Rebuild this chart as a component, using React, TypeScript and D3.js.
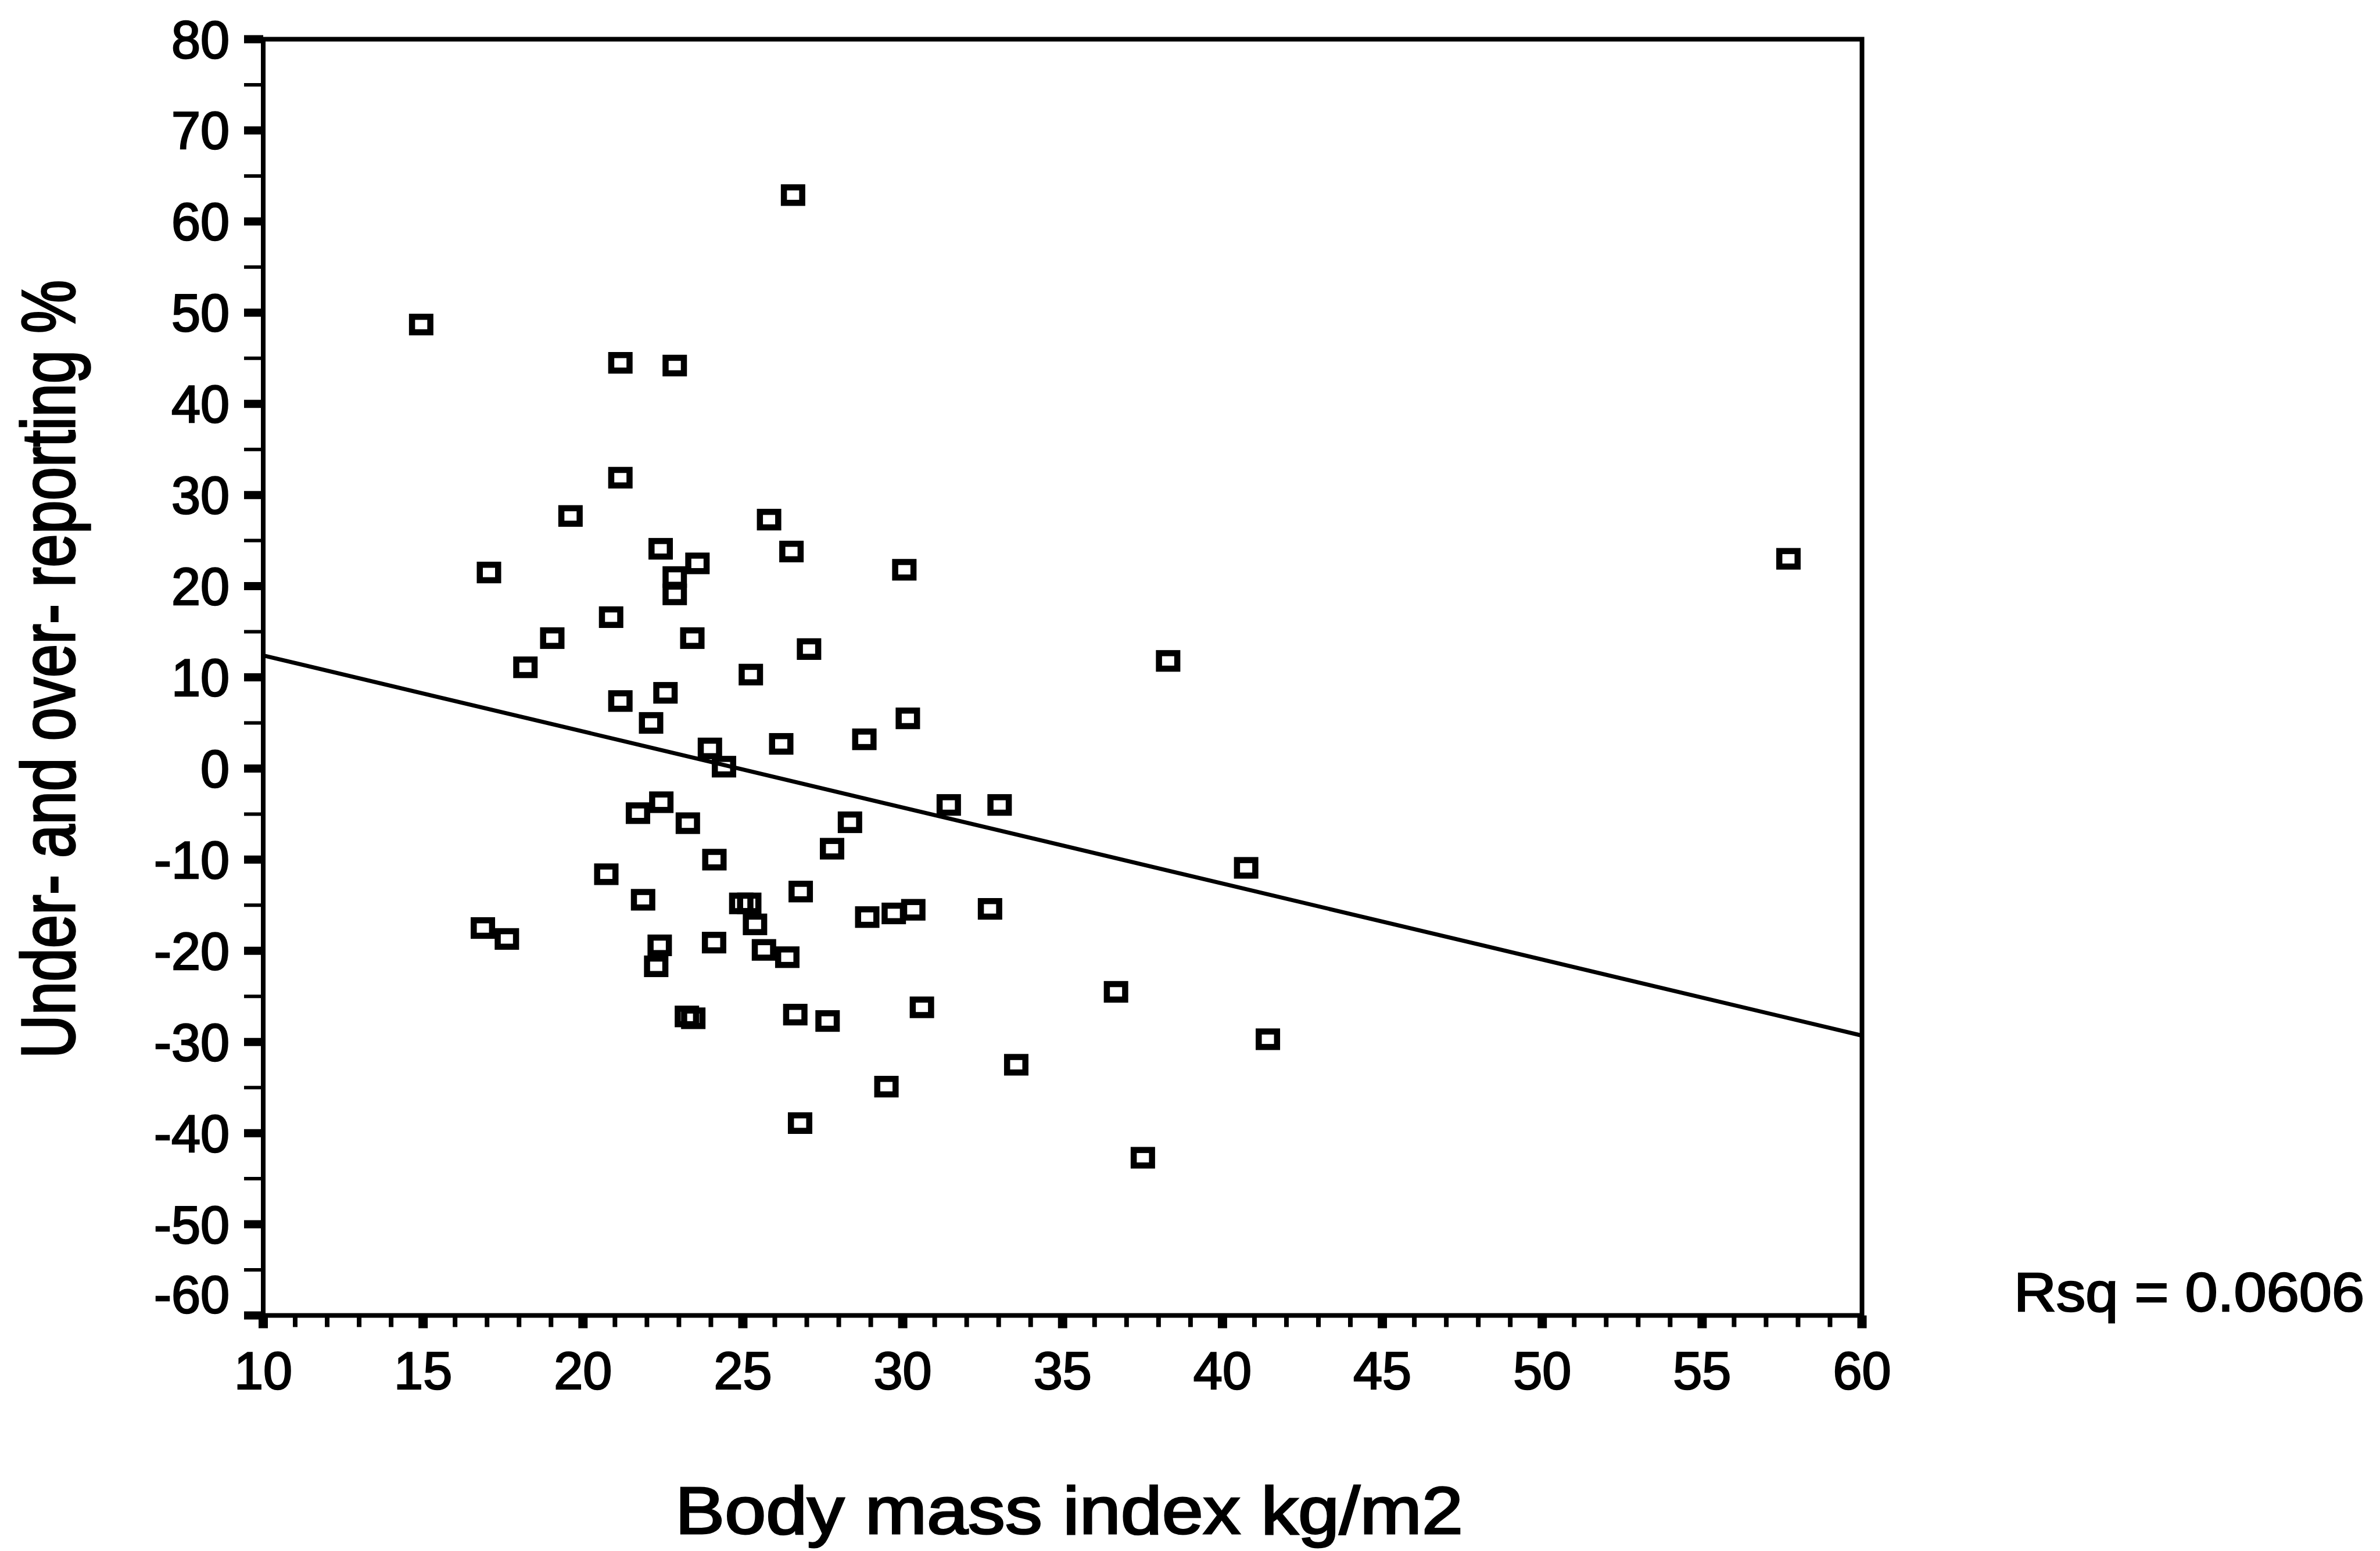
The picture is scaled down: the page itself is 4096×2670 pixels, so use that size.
import React from "react";
import * as d3 from "d3";

// ---- data ----
const bmi: number[] = [
  26.57, 14.94, 21.17, 22.87, 21.17, 19.61, 25.82, 22.43, 26.52, 23.58,
  22.87, 22.87, 17.06, 20.88, 19.04, 23.42, 27.07, 18.2, 25.25, 22.58,
  21.17, 22.13, 23.97, 24.41, 26.2, 28.8, 22.45, 21.72, 23.28, 28.35,
  27.79, 24.11, 20.73, 21.88, 24.95, 25.2, 26.81, 25.38, 16.87, 17.62,
  22.4, 22.29, 24.1, 25.66, 26.39, 23.25, 23.45, 26.64, 27.65, 26.79,
  38.3, 30.16, 31.44, 33.03, 40.74, 28.89, 29.72, 30.33, 32.73, 36.67,
  30.6, 41.42, 33.55, 29.49, 37.51, 30.05, 57.7,
];
const reporting: number[] = [
  62.9, 48.7, 44.5, 44.2, 31.9, 27.7, 27.3, 24.1, 23.8, 22.5,
  21.0, 19.1, 21.5, 16.6, 14.3, 14.3, 13.1, 11.1, 10.3, 8.3,
  7.4, 5.0, 2.2, 0.2, 2.7, 3.2, -3.7, -4.9, -6.0, -5.9,
  -8.8, -10.0, -11.6, -14.4, -14.8, -14.8, -13.5, -17.1, -17.5, -18.7,
  -19.4, -21.7, -19.1, -19.9, -20.7, -27.2, -27.4, -27.0, -27.7, -38.9,
  11.8, 5.5, -4.0, -4.0, -10.9, -16.3, -15.9, -15.5, -15.4, -24.5,
  -26.2, -29.7, -32.5, -34.9, -42.7, 21.8, 23.0,
];
const fitX: number[] = [10, 60];
const fitY: number[] = [12.4, -29.3];
const xTicks: number[] = [10, 15, 20, 25, 30, 35, 40, 45, 50, 55, 60];
const yTicks: number[] = [80, 70, 60, 50, 40, 30, 20, 10, 0, -10, -20, -30, -40, -50, -60];
const xTitle = "Body mass index kg/m2";
const yTitle = "Under- and over- reporting %";
const rsqLabel = "Rsq = 0.0606";

const W = 4096;
const H = 2670;
const FONT = "'Liberation Sans', Arial, Helvetica, sans-serif";

export default function App() {
  const x = d3.scaleLinear().domain([10, 60]).range([453, 3204.5]);
  const y = d3.scaleLinear().domain([-60, 80]).range([2264.5, 67.5]);
  const [x0, x1] = x.range();
  const [y0, y1] = y.range();

  const xMinor = d3.range(10, 61, 1).filter((v) => v % 5 !== 0);
  const yMinor = d3.range(-55, 80, 10);

  const line = d3
    .line<number>()
    .x((_, i) => x(fitX[i]))
    .y((d) => y(d));

  const pts = bmi.map((b, i) => ({ b, r: reporting[i] }));
  const mw = 31.5;
  const mh = 26.7;

  return (
    <div style={{ position: "absolute", left: 0, top: 0 }}>
      <svg width={W} height={H} style={{ display: "block", background: "#fff" }}>
        <rect x={0} y={0} width={W} height={H} fill="#fff" />
        {/* regression line */}
        <path d={line(fitY) || ""} fill="none" stroke="#000" strokeWidth={7} />
        {/* points */}
        {pts.map((p, i) => (
          <rect
            key={i}
            x={x(p.b) - mw / 2}
            y={y(p.r) - mh / 2}
            width={mw}
            height={mh}
            fill="none"
            stroke="#000"
            strokeWidth={10.5}
          />
        ))}
        {/* frame */}
        <rect x={x0} y={y1} width={x1 - x0} height={y0 - y1} fill="none" stroke="#000" strokeWidth={8} />
        {/* y ticks */}
        {yTicks.map((v) => (
          <line key={"ym" + v} x1={x0 - 33} x2={x0} y1={y(v)} y2={y(v)} stroke="#000" strokeWidth={14} />
        ))}
        {yMinor.map((v) => (
          <line key={"yn" + v} x1={x0 - 33} x2={x0} y1={y(v)} y2={y(v)} stroke="#000" strokeWidth={6} />
        ))}
        {/* x ticks */}
        {xTicks.map((v) => (
          <line key={"xm" + v} x1={x(v)} x2={x(v)} y1={y0} y2={y0 + 22} stroke="#000" strokeWidth={16} />
        ))}
        {xMinor.map((v) => (
          <line key={"xn" + v} x1={x(v)} x2={x(v)} y1={y0} y2={y0 + 20} stroke="#000" strokeWidth={8} />
        ))}
        {/* y tick labels */}
        {yTicks.map((v) => (
          <text
            key={"yl" + v}
            x={395}
            y={y(v) + 32 - (v === -60 ? 37 : 0)}
            textAnchor="end"
            fontFamily={FONT}
            fontSize={90}
            fill="#000"
            stroke="#000"
            strokeWidth={2.5}
          >
            {String(v)}
          </text>
        ))}
        {/* x tick labels */}
        {xTicks.map((v) => (
          <text
            key={"xl" + v}
            x={x(v)}
            y={2391}
            textAnchor="middle"
            fontFamily={FONT}
            fontSize={90}
            fill="#000"
            stroke="#000"
            strokeWidth={2.5}
          >
            {String(v)}
          </text>
        ))}
        {/* axis titles */}
        <text
          x={1162}
          y={2640}
          fontFamily={FONT}
          fontSize={115}
          textLength={1356}
          lengthAdjust="spacingAndGlyphs"
          fill="#000"
          stroke="#000"
          strokeWidth={3}
        >
          {xTitle}
        </text>
        <text
          transform={`translate(128, 1152) rotate(-90)`}
          x={0}
          y={0}
          textAnchor="middle"
          fontFamily={FONT}
          fontSize={130}
          textLength={1340}
          lengthAdjust="spacingAndGlyphs"
          fill="#000"
          stroke="#000"
          strokeWidth={3.5}
        >
          {yTitle}
        </text>
        <text
          x={3466}
          y={2257}
          fontFamily={FONT}
          fontSize={95}
          textLength={603}
          lengthAdjust="spacingAndGlyphs"
          fill="#000"
          stroke="#000"
          strokeWidth={2.5}
        >
          {rsqLabel}
        </text>
      </svg>
    </div>
  );
}
